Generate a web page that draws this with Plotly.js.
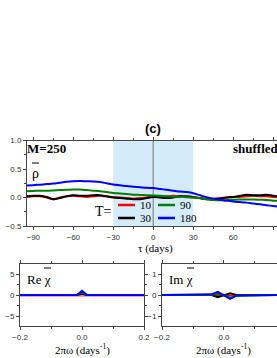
<!DOCTYPE html>
<html><head><meta charset="utf-8">
<script src="https://cdn.plot.ly/plotly-3.0.1.min.js"></script>
<style>html,body{margin:0;padding:0;background:#fff;}#chart{width:277px;height:358px;}</style>
</head><body><div id="chart"></div>
<script>
// ---- data ----
const tau = [-95,-90,-85,-80,-75,-70,-65,-60,-55,-50,-45,-40,-35,-30,-25,-20,-15,-10,-5,0,5,10,15,20,25,30,35,40,45,50,55,60,65,70,75,80,85,90,95];
const rhoT10 = [0.01,0.02,0.02,0.0,-0.03,0.0,0.02,0.03,0.02,0.01,0.02,0.03,0.02,0.01,0.0,-0.01,-0.02,-0.01,0.0,0.02,0.01,0.02,0.03,0.02,0.01,0.0,-0.01,-0.02,-0.02,-0.01,0.0,0.01,0.01,0.02,0.03,0.02,0.02,0.01,0.0];
const rhoT30 = [0.02,0.03,0.03,0.01,-0.03,-0.01,0.02,0.04,0.03,0.03,0.04,0.04,0.02,0.0,-0.01,-0.02,-0.03,-0.03,-0.01,0.01,0.0,-0.01,0.0,0.02,0.02,0.01,-0.01,-0.03,-0.03,-0.02,0.0,0.01,0.03,0.05,0.04,0.04,0.05,0.03,0.02];
const rhoT90 = [0.11,0.115,0.12,0.12,0.125,0.13,0.135,0.14,0.14,0.13,0.12,0.11,0.095,0.08,0.07,0.06,0.05,0.045,0.04,0.035,0.03,0.02,0.015,0.01,0.005,0.0,-0.015,-0.03,-0.045,-0.05,-0.045,-0.04,-0.035,-0.035,-0.035,-0.04,-0.045,-0.055,-0.06];
const rhoT180 = [0.21,0.215,0.225,0.235,0.245,0.26,0.275,0.285,0.29,0.285,0.28,0.27,0.25,0.23,0.215,0.2,0.19,0.18,0.17,0.165,0.15,0.135,0.12,0.105,0.095,0.075,0.04,0.005,-0.02,-0.04,-0.055,-0.07,-0.08,-0.09,-0.105,-0.12,-0.135,-0.15,-0.165];

const freqRe = [-0.2,-0.016,0,0.016,0.2];
const reT10 = [-0.15,-0.15,-0.05,-0.15,-0.15];
const reT30 = [0,0,0.3,0,0];
const reT90 = [0,0,0.7,0,0];
const reT180 = [0,0,1.0,0,0];

const freqIm = [-0.2,-0.04,-0.02,0,0.02,0.04,0.2];
const imT10 = [0,0,0.03,0,-0.03,0,0];
const imT30 = [0,0,-0.1,0,0.08,0,0];
const imT90 = [0,0.01,0.06,0,-0.15,-0.02,0];
const imT180 = [0,0.03,0.15,0,-0.18,-0.03,0];

const seriesNames = ['10','30','90','180'];
const seriesColors = ['#ff0000','#000000','#008000','#0000ff'];

// ---- chart ----
const W = 277, H = 358;
const px = v => v / W, py = v => 1 - v / H;

const mainY = [rhoT10, rhoT30, rhoT90, rhoT180];
const reY = [reT10, reT30, reT90, reT180];
const imY = [imT10, imT30, imT90, imT180];
const traces = [];
for (let i = 0; i < 4; i++) {
  traces.push({x: tau, y: mainY[i], xaxis: 'x', yaxis: 'y', type: 'scatter', mode: 'lines',
    line: {color: seriesColors[i], width: 2, shape: 'spline', smoothing: 0.8}, name: 'T=' + seriesNames[i], showlegend: false});
}
for (let i = 0; i < 4; i++) {
  traces.push({x: freqRe, y: reY[i], xaxis: 'x2', yaxis: 'y2', type: 'scatter', mode: 'lines',
    line: {color: seriesColors[i], width: 2}, opacity: i === 0 ? 0.5 : 1, showlegend: false});
}
for (let i = 0; i < 4; i++) {
  traces.push({x: freqIm, y: imY[i], xaxis: 'x3', yaxis: 'y3', type: 'scatter', mode: 'lines',
    line: {color: seriesColors[i], width: 2}, showlegend: false});
}

const tickFont = {family: 'Arial, Liberation Sans, sans-serif', size: 8, color: '#333'};
const axBase = {showline: true, linecolor: '#444', linewidth: 1, ticks: 'outside', ticklen: 3, tickcolor: '#444',
  tickfont: tickFont, showgrid: false, zeroline: false, fixedrange: true};

const layout = {
  width: W, height: H, margin: {l: 0, r: 0, t: 0, b: 0}, paper_bgcolor: '#fff', plot_bgcolor: 'rgba(0,0,0,0)',
  showlegend: false,
  xaxis: Object.assign({}, axBase, {domain: [px(27), 1], range: [-94.7, 92.8], anchor: 'y', mirror: 'ticks',
    tickvals: [-90,-60,-30,0,30,60,90], minor: {dtick: 15, tick0: 0, ticks: 'outside', ticklen: 2, tickcolor: '#444'}}),
  yaxis: Object.assign({}, axBase, {domain: [py(226), py(140.5)], range: [-0.5, 1.0], anchor: 'x',
    tickvals: [-0.5, 0, 0.5, 1.0], tickformat: '.1f', minor: {dtick: 0.25, tick0: 0, ticks: 'outside', ticklen: 2, tickcolor: '#444'}}),
  xaxis2: Object.assign({}, axBase, {domain: [px(20), px(144)], range: [-0.2, 0.2], anchor: 'y2', mirror: 'ticks',
    tickvals: [-0.2, 0, 0.2], tickformat: '.1f', minor: {dtick: 0.1, tick0: 0, ticks: 'outside', ticklen: 2, tickcolor: '#444'}}),
  yaxis2: Object.assign({}, axBase, {domain: [py(326), py(264)], range: [-7.38, 7.38], anchor: 'x2', mirror: 'ticks',
    tickvals: [-5, 0, 5], minor: {dtick: 2.5, tick0: 0, ticks: 'outside', ticklen: 2, tickcolor: '#444'}}),
  xaxis3: Object.assign({}, axBase, {domain: [px(162), 1], range: [-0.2, 0.171], anchor: 'y3', mirror: 'ticks',
    tickvals: [-0.2, 0], tickformat: '.1f', minor: {dtick: 0.1, tick0: 0, ticks: 'outside', ticklen: 2, tickcolor: '#444'}}),
  yaxis3: Object.assign({}, axBase, {domain: [py(326), py(264)], range: [-1.476, 1.476], anchor: 'x3',
    tickvals: [-1, 0, 1], minor: {dtick: 0.5, tick0: 0, ticks: 'outside', ticklen: 2, tickcolor: '#444'}}),
  shapes: [
    {type: 'rect', xref: 'x', yref: 'y domain', x0: -30, x1: 30, y0: 0, y1: 1, fillcolor: '#d3ebfb', line: {width: 0}, layer: 'below'},
    {type: 'line', xref: 'x', yref: 'y domain', x0: 0, x1: 0, y0: 0, y1: 1, line: {color: '#9a9a9a', width: 1.5}, layer: 'below'},
    // legend keys
    {type: 'line', xref: 'paper', yref: 'paper', x0: px(118), x1: px(135), y0: py(205), y1: py(205), line: {color: seriesColors[0], width: 2.5}},
    {type: 'line', xref: 'paper', yref: 'paper', x0: px(158), x1: px(175), y0: py(205), y1: py(205), line: {color: seriesColors[2], width: 2.5}},
    {type: 'line', xref: 'paper', yref: 'paper', x0: px(118), x1: px(135), y0: py(218), y1: py(218), line: {color: seriesColors[1], width: 2.5}},
    {type: 'line', xref: 'paper', yref: 'paper', x0: px(158), x1: px(175), y0: py(218), y1: py(218), line: {color: seriesColors[3], width: 2.5}},
    // overbars
    {type: 'line', xref: 'paper', yref: 'paper', x0: px(32), x1: px(39), y0: py(163), y1: py(163), line: {color: '#000', width: 1}},
    {type: 'line', xref: 'paper', yref: 'paper', x0: px(44), x1: px(51), y0: py(268), y1: py(268), line: {color: '#000', width: 1}},
    {type: 'line', xref: 'paper', yref: 'paper', x0: px(187), x1: px(194), y0: py(268), y1: py(268), line: {color: '#000', width: 1}}
  ],
  annotations: []
};

const serif = 'Liberation Serif, Times New Roman, serif';
function ann(text, x, y, opts) {
  layout.annotations.push(Object.assign({text: text, xref: 'paper', yref: 'paper', x: px(x), y: py(y), showarrow: false,
    xanchor: 'left', yanchor: 'middle', borderpad: 0, font: {family: serif, size: 12, color: '#000'}}, opts || {}));
}
ann('<b>(c)</b>', 153, 128, {xanchor: 'center', font: {family: 'Arial, Liberation Sans, sans-serif', size: 13, color: '#000'}});
ann('<b>M=250</b>', 26, 148, {font: {family: serif, size: 13, color: '#000'}});
ann('ρ', 31, 173, {font: {family: serif, size: 14, color: '#000'}});
ann('<b>shuffled</b>', 232, 148, {font: {family: serif, size: 13, color: '#000'}});
ann('T=', 94, 211, {font: {family: serif, size: 14, color: '#000'}});
ann(seriesNames[0], 139, 205, {font: {family: serif, size: 11, color: '#000'}});
ann(seriesNames[2], 179, 205, {font: {family: serif, size: 11, color: '#000'}});
ann(seriesNames[1], 139, 218, {font: {family: serif, size: 11, color: '#000'}});
ann(seriesNames[3], 179, 218, {font: {family: serif, size: 11, color: '#000'}});
ann('τ (days)', 155, 248, {xanchor: 'center', font: {family: serif, size: 11, color: '#000'}});
ann('Re χ', 26, 279, {font: {family: serif, size: 13, color: '#000'}});
ann('Im χ', 168, 279, {font: {family: serif, size: 13, color: '#000'}});
ann('2πω (days<sup>-1</sup>)', 82, 349, {xanchor: 'center', font: {family: serif, size: 11, color: '#000'}});
ann('2πω (days<sup>-1</sup>)', 224, 349, {xanchor: 'center', font: {family: serif, size: 11, color: '#000'}});

Plotly.newPlot('chart', traces, layout, {staticPlot: true, displayModeBar: false});
</script>
</body></html>
